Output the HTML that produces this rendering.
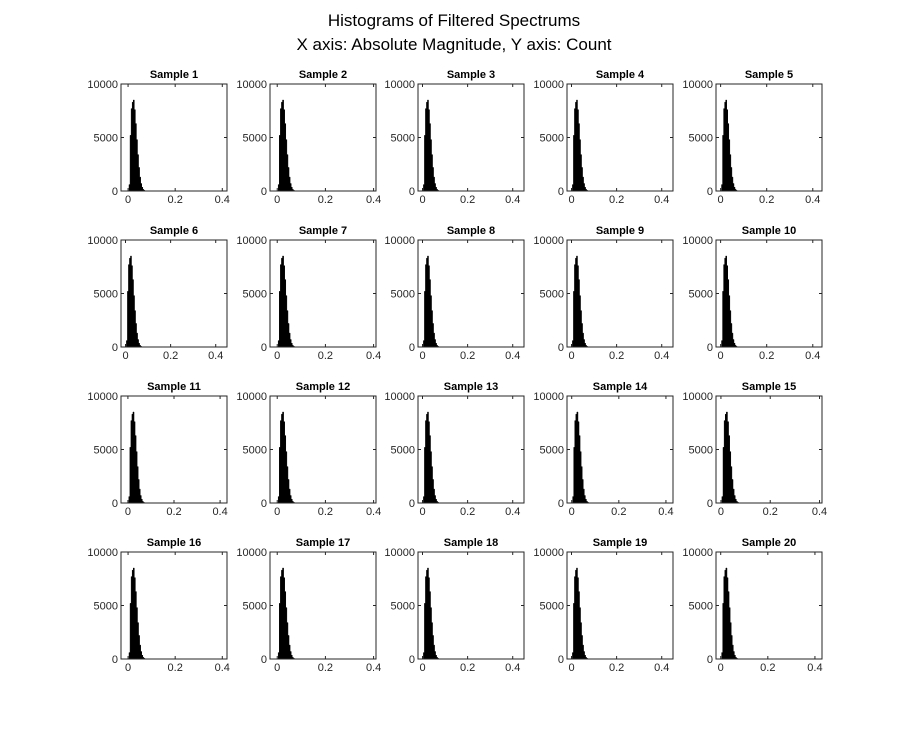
<!DOCTYPE html>
<html><head><meta charset="utf-8"><style>
body{margin:0;background:#fff;}
svg{display:block;font-family:"Liberation Sans",Arial,sans-serif;}
</style></head><body>
<svg id="fig" width="908" height="739" viewBox="0 0 908 739">
<rect width="908" height="739" fill="#fff"/>
<text x="454" y="26" font-size="17" text-anchor="middle">Histograms of Filtered Spectrums</text>
<text x="454" y="50" font-size="17" text-anchor="middle">X axis: Absolute Magnitude, Y axis: Count</text>
</svg>
<script>
const sampleNames = ["Sample 1","Sample 2","Sample 3","Sample 4","Sample 5","Sample 6","Sample 7","Sample 8","Sample 9","Sample 10","Sample 11","Sample 12","Sample 13","Sample 14","Sample 15","Sample 16","Sample 17","Sample 18","Sample 19","Sample 20"];
const xMinValues = [-0.03,-0.03,-0.02,-0.02,-0.02,-0.02,-0.03,-0.02,-0.02,-0.02,-0.03,-0.03,-0.02,-0.02,-0.02,-0.03,-0.03,-0.02,-0.02,-0.02];
const xMaxValues = [0.42,0.41,0.45,0.45,0.44,0.45,0.41,0.45,0.45,0.44,0.43,0.41,0.45,0.43,0.41,0.42,0.41,0.45,0.45,0.43];
const binEdges = [0.004,0.0085,0.013,0.0175,0.022,0.0265,0.031,0.0355,0.04,0.0445,0.049,0.0535,0.058,0.0625,0.067,0.0715,0.076];
const binCounts = [600,5200,7700,8300,8500,7600,6300,4800,3400,2200,1300,700,350,150,60,20];
const xTicks = [0,0.2,0.4];
const xTickLabels = ["0","0.2","0.4"];
const yTicks = [0,5000,10000];
const yTickLabels = ["0","5000","10000"];
const yMax = 10000;

const svg = document.getElementById('fig');
const NS = 'http://www.w3.org/2000/svg';
const colLeft = [121,270,418,567,716];
const rowTop = [84,240,396,552];
const W = 106, H = 107;
function mk(tag, attrs){const e=document.createElementNS(NS,tag);for(const k in attrs)e.setAttribute(k,attrs[k]);return e;}

sampleNames.forEach((name,i)=>{
  const x0 = colLeft[i%5], y0 = rowTop[Math.floor(i/5)];
  const xmin = xMinValues[i], xmax = xMaxValues[i];
  const sx = v => x0 + (v-xmin)/(xmax-xmin)*W;
  const sy = v => y0 + H - v/yMax*H;
  const g = mk('g',{});
  
  
  svg.appendChild(g);
  let d = 'M'+sx(binEdges[0])+','+sy(0);
  binCounts.forEach((c,j)=>{ d += ' L'+sx(binEdges[j])+','+sy(c)+' L'+sx(binEdges[j+1])+','+sy(c); });
  d += ' L'+sx(binEdges[binEdges.length-1])+','+sy(0)+' Z';
  const bars = mk('path',{d:d,fill:'#000',stroke:'#000','stroke-width':0.5});
  
  
  g.appendChild(bars);
  const box = mk('rect',{x:x0,y:y0,width:W,height:H,fill:'none',stroke:'#262626','stroke-width':1});
  
  
  g.appendChild(box);
  xTicks.forEach((t,k)=>{
    const px = sx(t);
    g.appendChild(mk('line',{x1:px,y1:y0+H,x2:px,y2:y0+H-3,stroke:'#262626'}));
    g.appendChild(mk('line',{x1:px,y1:y0,x2:px,y2:y0+3,stroke:'#262626'}));
    const tx = mk('text',{x:px,y:y0+H+12,'font-size':11,'text-anchor':'middle',fill:'#262626'});
    tx.textContent = xTickLabels[k];
    
    
    g.appendChild(tx);
  });
  yTicks.forEach((t,k)=>{
    const py = sy(t);
    g.appendChild(mk('line',{x1:x0,y1:py,x2:x0+3,y2:py,stroke:'#262626'}));
    g.appendChild(mk('line',{x1:x0+W,y1:py,x2:x0+W-3,y2:py,stroke:'#262626'}));
    const ty = mk('text',{x:x0-3,y:py+4,'font-size':11,'text-anchor':'end',fill:'#262626'});
    ty.textContent = yTickLabels[k];
    
    
    g.appendChild(ty);
  });
  const title = mk('text',{x:x0+W/2,y:y0-6,'font-size':11,'font-weight':'bold','text-anchor':'middle',fill:'#000'});
  title.textContent = name;
  
  
  g.appendChild(title);
});
</script>
</body></html>
